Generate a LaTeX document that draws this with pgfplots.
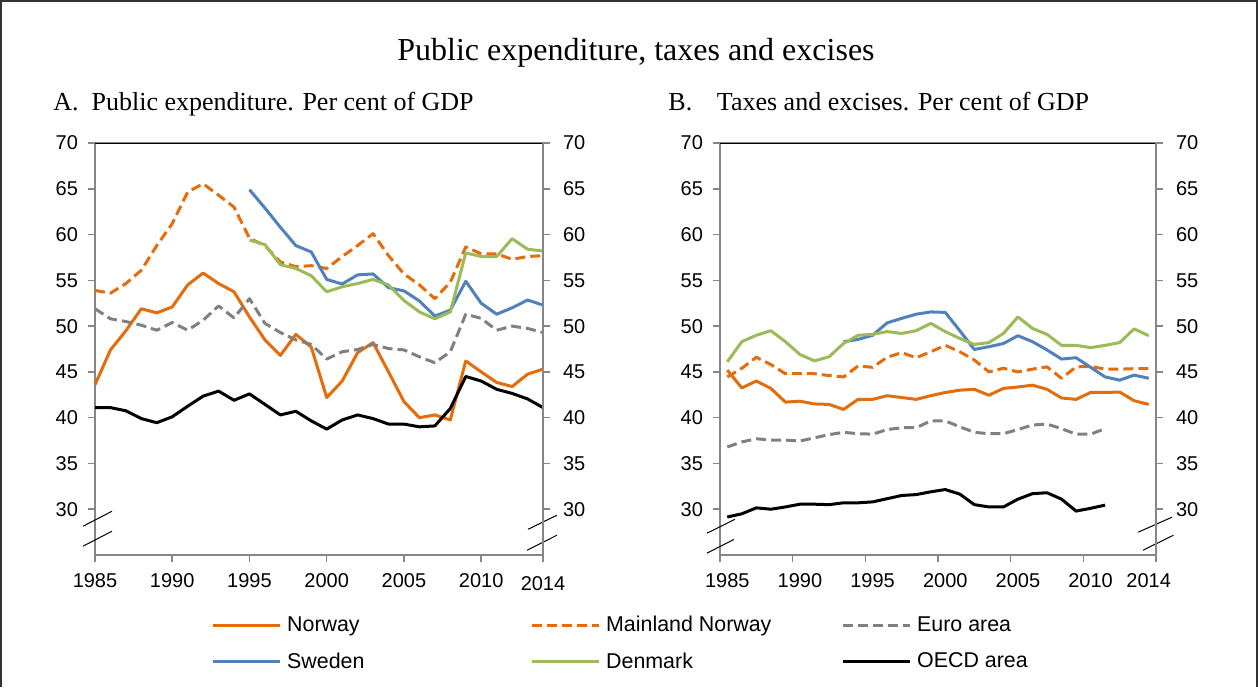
\documentclass[border=0pt]{standalone}
\usepackage{fontspec}
\setmainfont{Liberation Serif}
\setsansfont{Liberation Sans}
\usepackage{pgfplots}
\usepackage{pgfplotstable}
\pgfplotsset{compat=1.18}
\definecolor{nor}{RGB}{228,108,10}
\definecolor{swe}{RGB}{79,129,189}
\definecolor{den}{RGB}{155,187,89}
\definecolor{eur}{RGB}{128,128,128}
\definecolor{axgray}{RGB}{134,134,134}

% panel A: public expenditure, per cent of GDP
\pgfplotstableread{
year nor mnor eur swe den oecd
1985 43.6 53.9 51.9 nan nan 41.1
1986 47.4 53.6 50.8 nan nan 41.1
1987 49.5 54.65 50.5 nan nan 40.75
1988 51.9 56.1 50.1 nan nan 39.9
1989 51.45 58.8 49.55 nan nan 39.45
1990 52.1 61.2 50.4 nan nan 40.1
1991 54.5 64.65 49.55 nan nan 41.25
1992 55.8 65.55 50.65 nan nan 42.35
1993 54.65 64.3 52.2 nan nan 42.9
1994 53.75 63.0 50.9 nan nan 41.9
1995 51.0 59.6 53.0 64.9 59.4 42.6
1996 48.5 58.8 50.3 62.9 58.9 41.45
1997 46.8 57.0 49.3 60.8 56.7 40.3
1998 49.1 56.5 48.5 58.8 56.3 40.7
1999 47.7 56.6 48.0 58.1 55.5 39.65
2000 42.2 56.3 46.4 55.1 53.75 38.75
2001 44.0 57.6 47.2 54.6 54.3 39.75
2002 47.1 58.8 47.45 55.6 54.65 40.3
2003 48.2 60.1 48.0 55.7 55.1 39.9
2004 45.0 57.7 47.55 54.2 54.5 39.3
2005 41.75 55.7 47.4 53.85 52.8 39.3
2006 40.0 54.5 46.65 52.75 51.55 39.0
2007 40.3 53.0 46.0 51.1 50.8 39.1
2008 39.75 54.8 47.2 51.75 51.55 41.0
2009 46.2 58.65 51.3 54.9 58.0 44.5
2010 45.0 57.9 50.85 52.5 57.6 44.0
2011 43.85 57.9 49.55 51.3 57.6 43.1
2012 43.4 57.3 50.0 52.0 59.55 42.65
2013 44.75 57.6 49.75 52.85 58.4 42.05
2014 45.3 57.7 49.3 52.3 58.2 41.1
}\tabA

% panel B: taxes and excises, per cent of GDP
\pgfplotstableread{
year nor mnor eur swe den oecd
1985 45.2 44.45 36.8 nan 46.1 29.15
1986 43.25 45.4 37.35 nan 48.3 29.5
1987 44.0 46.6 37.7 nan 49.0 30.15
1988 43.2 45.8 37.55 nan 49.5 30.0
1989 41.7 44.8 37.55 nan 48.3 30.25
1990 41.8 44.8 37.45 nan 46.9 30.55
1991 41.5 44.8 37.8 nan 46.2 30.55
1992 41.45 44.6 38.15 nan 46.65 30.5
1993 40.9 44.45 38.4 48.3 48.1 30.7
1994 42.0 45.65 38.25 48.55 49.0 30.7
1995 42.0 45.5 38.2 49.0 49.1 30.8
1996 42.4 46.6 38.7 50.35 49.4 31.15
1997 42.2 47.1 38.9 50.85 49.2 31.5
1998 42.0 46.55 38.9 51.3 49.5 31.6
1999 42.4 47.2 39.65 51.55 50.3 31.9
2000 42.75 47.9 39.65 51.5 49.4 32.15
2001 43.0 47.2 39.0 49.5 48.65 31.65
2002 43.1 46.3 38.4 47.45 48.0 30.5
2003 42.45 45.0 38.25 47.75 48.2 30.25
2004 43.2 45.4 38.25 48.1 49.2 30.25
2005 43.35 45.0 38.7 48.95 51.0 31.1
2006 43.55 45.3 39.2 48.3 49.75 31.7
2007 43.1 45.55 39.3 47.4 49.1 31.8
2008 42.15 44.3 38.8 46.4 47.9 31.1
2009 42.0 45.55 38.2 46.55 47.9 29.8
2010 42.75 45.6 38.2 45.5 47.65 30.1
2011 42.75 45.3 38.8 44.45 47.9 30.45
2012 42.8 45.3 nan 44.1 48.2 nan
2013 41.85 45.35 nan 44.65 49.7 nan
2014 41.45 45.35 nan 44.3 48.95 nan
}\tabB

\pgfplotsset{
  panel/.style={
    scale only axis, anchor=south west, height=206pt,
    ymin=25, ymax=70, ytick={30,35,...,70}, clip=false,
    axis line style={axgray, line width=0.75pt},
    tick style={axgray, line width=0.75pt},
    major tick length=3.5pt, tick align=outside,
    ticklabel style={font=\sffamily\fontsize{10}{12}\selectfont},
    /pgf/number format/assume math mode=true,
    /pgf/number format/1000 sep={},
    xtick pos=bottom, ytick pos=left,
    x tick label style={yshift=-2pt},
    y tick label style={xshift=-1.5pt},
  },
  rightlabels/.style={axis x line=none, axis y line*=right,
    ytick pos=right, yticklabel pos=right, y tick label style={xshift=4.5pt}},
  ser/.style={line width=1.5pt, line join=round},
  dsh/.style={dash pattern=on 5pt off 2.5pt},
}

\begin{document}
\begin{tikzpicture}
\path (0,0) rectangle (629pt,343.5pt);
\draw[line width=0.6pt, black!80] (0.5pt,0) -- (0.5pt,343pt) -- (628.5pt,343pt) -- (628.5pt,0);

\node[font=\fontsize{16}{19}\selectfont, anchor=base] at (318pt,313.5pt) {Public expenditure, taxes and excises};
\node[font=\fontsize{13}{15}\selectfont, anchor=base west, inner sep=0pt] at (26.5pt,288.5pt) {A.\hspace{0.5em}Public expenditure. Per cent of GDP};
\node[font=\fontsize{13}{15}\selectfont, anchor=base west, inner sep=0pt] at (334pt,288.5pt) {B.\hspace{0.95em}Taxes and excises. Per cent of GDP};

% panel A
\begin{axis}[panel, at={(47.5pt,66pt)}, width=224pt,
  xmin=1985, xmax=2014, xtick={1985,1990,...,2010},
  extra x ticks={2014}, extra x tick style={tick label style={yshift=-1.5pt}},
  legend columns=3,
  legend style={draw=none, fill=none, at={(axis description cs:0.245,-0.128)}, anchor=north west,
    font=\sffamily\fontsize{10.7}{12}\selectfont, row sep=5pt},
  legend cell align=left,
  legend image code/.code={\draw[#1] (0pt,0pt) -- (33.5pt,0pt);}]
\addplot[ser, nor] table[x=year, y=nor] {\tabA};
\addlegendentry{\makebox[120.5pt][l]{\hspace{1pt}Norway}}
\addplot[ser, dsh, nor] table[x=year, y=mnor] {\tabA};
\addlegendentry{\makebox[116.5pt][l]{\hspace{1pt}Mainland Norway}}
\addplot[ser, dsh, eur] table[x=year, y=eur] {\tabA};
\addlegendentry{\hspace{1pt}Euro area}
\addplot[ser, swe] table[x=year, y=swe] {\tabA};
\addlegendentry{\makebox[120.5pt][l]{\hspace{1pt}Sweden}}
\addplot[ser, den] table[x=year, y=den] {\tabA};
\addlegendentry{\makebox[116.5pt][l]{\hspace{1pt}Denmark}}
\addplot[ser, black] table[x=year, y=oecd] {\tabA};
\addlegendentry{\hspace{1pt}OECD area}
\draw[black, line width=0.5pt] (rel axis cs:0,1) -- (rel axis cs:1,1);
\draw[black, line width=0.5pt] (axis cs:1984.22,28.14) -- (axis cs:1986.1,29.78);
\draw[black, line width=0.5pt] (axis cs:1984.22,25.96) -- (axis cs:1986.1,27.6);
\draw[black, line width=0.5pt] (axis cs:2013.03,27.81) -- (axis cs:2014.9,29.34);
\draw[black, line width=0.5pt] (axis cs:2012.96,25.52) -- (axis cs:2014.9,27.16);
\end{axis}
\begin{axis}[panel, rightlabels, at={(47.5pt,66pt)}, width=224pt, xmin=1985, xmax=2014]
\end{axis}

% panel B
\begin{axis}[panel, at={(360pt,66pt)}, width=218pt,
  xmin=1984.5, xmax=2014.5, xtick={1984.5,1989.5,...,2014.5}, xticklabels={},
  extra x ticks={1985,1990,1995,2000,2005,2010,2014},
  extra x tick style={major tick length=0pt, tick label style={yshift=-3.5pt}}]
\addplot[ser, nor] table[x=year, y=nor] {\tabB};
\addplot[ser, dsh, nor] table[x=year, y=mnor] {\tabB};
\addplot[ser, dsh, eur] table[x=year, y=eur] {\tabB};
\addplot[ser, swe] table[x=year, y=swe] {\tabB};
\addplot[ser, den] table[x=year, y=den] {\tabB};
\addplot[ser, black] table[x=year, y=oecd] {\tabB};
\draw[black, line width=0.5pt] (rel axis cs:0,1) -- (rel axis cs:1,1);
\draw[black, line width=0.5pt] (axis cs:1983.6,27.38) -- (axis cs:1985.53,28.9);
\draw[black, line width=0.5pt] (axis cs:1983.6,25.2) -- (axis cs:1985.46,26.7);
\draw[black, line width=0.5pt] (axis cs:2013.27,27.49) -- (axis cs:2015.6,29.13);
\draw[black, line width=0.5pt] (axis cs:2013.6,25.52) -- (axis cs:2015.7,27.16);
\end{axis}
\begin{axis}[panel, rightlabels, at={(360pt,66pt)}, width=218pt, xmin=1984.5, xmax=2014.5]
\end{axis}
\end{tikzpicture}
\end{document}
